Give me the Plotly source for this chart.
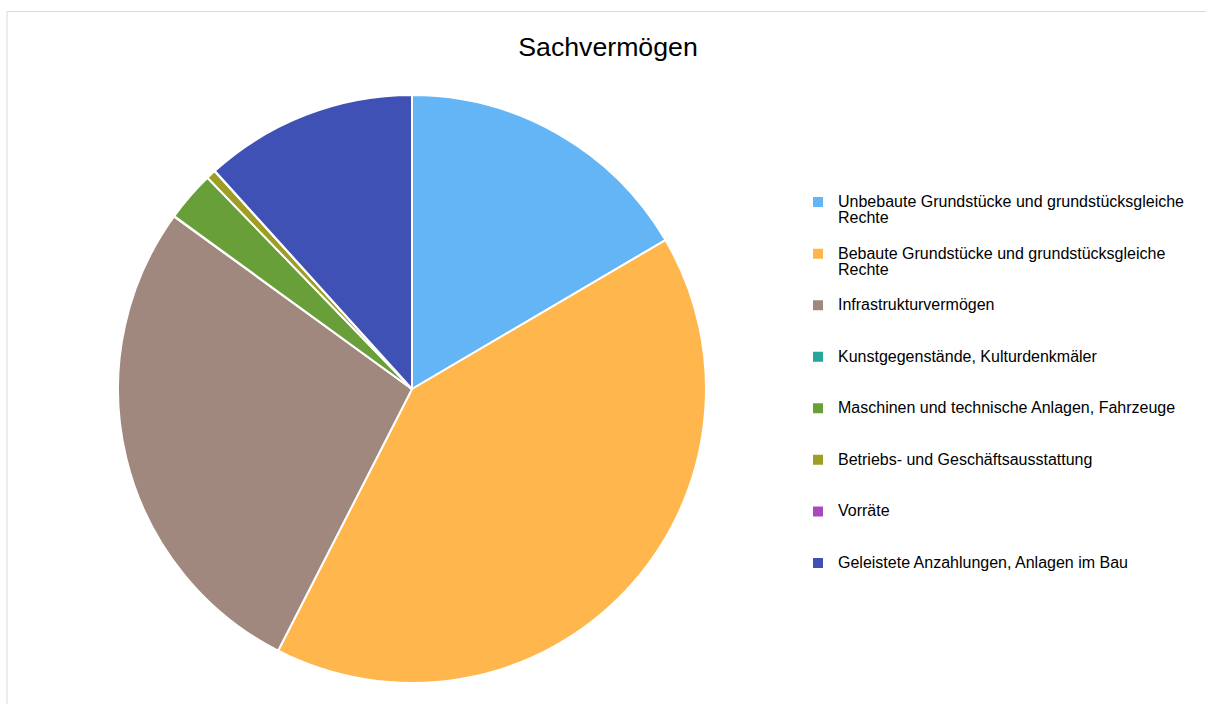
import plotly.graph_objects as go

W, H = 1206, 704

title_text = "Sachvermögen"
categories = [
    "Unbebaute Grundstücke und grundstücksgleiche<br>Rechte",
    "Bebaute Grundstücke und grundstücksgleiche<br>Rechte",
    "Infrastrukturvermögen",
    "Kunstgegenstände, Kulturdenkmäler",
    "Maschinen und technische Anlagen, Fahrzeuge",
    "Betriebs- und Geschäftsausstattung",
    "Vorräte",
    "Geleistete Anzahlungen, Anlagen im Bau",
]
values = [16.55, 41.0, 27.47, 0.02, 2.75, 0.53, 0.02, 11.7]
colors = ["#64B5F6", "#FFB74D", "#A1887F", "#26A69A", "#689F38", "#9E9D24", "#AB47BC", "#3F51B5"]

# pad each legend entry to three lines so the entries sit at equal spacing
def legend_label(name):
    n_lines = name.count("<br>") + 1
    pad = "<br> " * (3 - n_lines)
    return '<span style="font-size:16px">' + name + "</span>" + pad

labels = [legend_label(c) for c in categories]

# pie geometry in pixels
cx, cy, r = 412, 389, 294

fig = go.Figure(
    go.Pie(
        labels=labels,
        values=values,
        sort=False,
        direction="clockwise",
        rotation=0,
        marker=dict(colors=colors, line=dict(color="white", width=2)),
        textinfo="none",
        hoverinfo="label+percent",
        domain=dict(x=[(cx - r) / W, (cx + r) / W], y=[(H - cy - r) / H, (H - cy + r) / H]),
    )
)

fig.update_layout(
    width=W,
    height=H,
    margin=dict(l=0, r=0, t=0, b=0),
    paper_bgcolor="white",
    font=dict(family="Liberation Sans, Arial, sans-serif", color="#000000"),
    title=dict(
        text=title_text,
        x=608 / W,
        xanchor="center",
        y=1 - 47 / H,
        yanchor="middle",
        font=dict(size=26.7, family="Liberation Sans, Arial, sans-serif", color="#000000"),
    ),
    legend=dict(
        x=798 / W,
        xanchor="left",
        y=1 - 187.5 / H,
        yanchor="top",
        font=dict(size=12.45, family="Liberation Sans, Arial, sans-serif", color="#000000"),
        valign="top",
        traceorder="normal",
        bgcolor="rgba(0,0,0,0)",
    ),
    shapes=[
        dict(
            type="rect",
            xref="paper",
            yref="paper",
            x0=7 / W,
            x1=1.2,
            y0=-0.2,
            y1=1 - 11.5 / H,
            line=dict(color="#D9D9D9", width=1),
            fillcolor="rgba(0,0,0,0)",
            layer="below",
        )
    ],
)

fig.write_html(
    "out.html",
    config={"displayModeBar": False},
    post_script="document.body.style.margin='0px';document.body.style.overflow='hidden';",
)
